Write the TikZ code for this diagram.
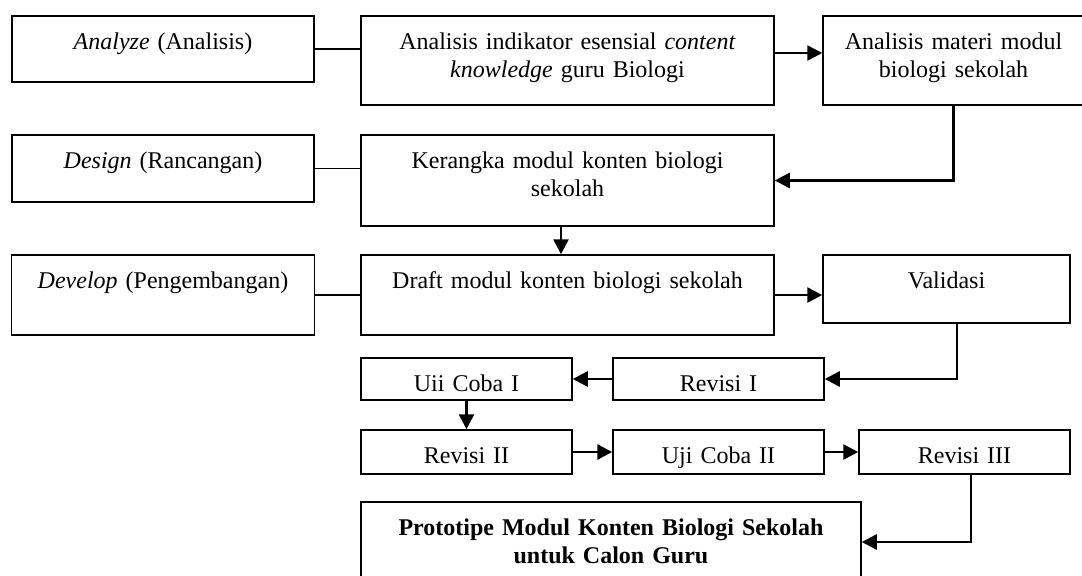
\documentclass[tikz,border=0pt]{standalone}
\usepackage{fontspec}
\setmainfont{Liberation Serif}
\usetikzlibrary{positioning, arrows.meta}
\tikzstyle{stage} = [rectangle, draw=black, line width=0.75pt, inner sep=0pt, align=center, text height=16.5pt, font=\fontsize{12pt}{14pt}\selectfont]
\tikzstyle{link} = [line width=0.75pt]
\tikzstyle{arrow} = [line width=1.3pt,->,>={Triangle[length=7.5pt,width=7.5pt]}]

\begin{document}
\begin{tikzpicture}
\useasboundingbox (-81.5pt,24.5pt) rectangle (459.5pt,-263pt);

\node (analyze) [stage, text width=151pt, text depth=16.5pt] at (0,0) {\textit{Analyze} (Analisis)};

\node (indikator) [stage, text width=206.5pt, text depth=28pt, right=22.75pt of analyze.north east, anchor=north west] {
	Analisis indikator esensial \textit{content}\\
	\textit{knowledge} guru Biologi
};

\node (materi) [stage, text width=130.5pt, text depth=28pt, right=23.75pt of indikator] {
	Analisis materi modul\\
	biologi sekolah
};

\node (design) [stage, text width=151pt, text depth=17pt, below=25.75pt of analyze] {\textit{Design} (Rancangan)};

\node (kerangka) [stage, text width=206.5pt, text depth=29pt, below=14.25pt of indikator] {
	Kerangka modul konten biologi\\
	sekolah
};

\node (develop) [stage, text width=151.5pt, text depth=23.5pt, below=25.75pt of design] {\textit{Develop} (Pengembangan)};

\node (draft) [stage, text width=206.5pt, text depth=23.5pt, below=13.75pt of kerangka] {Draft modul konten biologi sekolah};

\node (validasi) [stage, text width=123.5pt, text depth=17.5pt, right=23.75pt of draft.north east, anchor=north west] {Validasi};

\node (uji1) [stage, text width=105.5pt, text depth=4.5pt, below=10.75pt of draft.south west, anchor=north west] {Uii Coba I};

\node (revisi1) [stage, text width=105.5pt, text depth=4.5pt, right=19.75pt of uji1] {Revisi I};

\node (revisi2) [stage, text width=105.5pt, text depth=5.5pt, below=14.25pt of uji1] {Revisi II};

\node (uji2) [stage, text width=105.5pt, text depth=5.5pt, right=19.75pt of revisi2] {Uji Coba II};

\node (revisi3) [stage, text width=105.5pt, text depth=5.5pt, right=16.75pt of uji2] {Revisi III};

\node (proto) [stage, text width=250pt, text depth=23.5pt, below=13.25pt of revisi2.south west, anchor=north west] {
	\textbf{Prototipe Modul Konten Biologi Sekolah}\\
	\textbf{untuk Calon Guru}
};

\draw [link] (analyze.east) -- (analyze.east -| indikator.west);
\draw [link] (design.east) -- (design.east -| kerangka.west);
\draw [link] (develop.east) -- (develop.east -| draft.west);

\draw [arrow] ([yshift=3.75pt]indikator.east) -- ([yshift=3.75pt]materi.west);
\draw [arrow] (materi.south) |- (kerangka.east);
\draw [arrow] ([xshift=-3.25pt]kerangka.south) -- ([xshift=-3.25pt]draft.north);
\draw [arrow] (draft.east) -- (draft.east -| validasi.west);
\draw [arrow] ([xshift=5.25pt]validasi.south) |- (revisi1.east);
\draw [arrow] (revisi1) -- (uji1);
\draw [arrow] (uji1) -- (revisi2);
\draw [arrow] (revisi2) -- (uji2);
\draw [arrow] (uji2.east) -- (uji2.east -| revisi3.west);
\draw [arrow] ([xshift=3.25pt]revisi3.south) |- (proto.east);

\end{tikzpicture}
\end{document}
